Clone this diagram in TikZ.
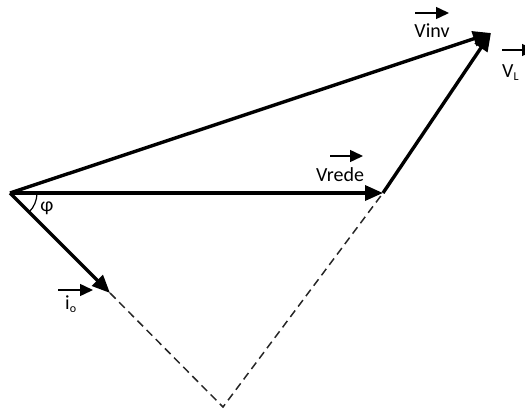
\documentclass[tikz,border=0pt]{standalone}
\usepackage{fontspec}
\setmainfont{Carlito}
\usetikzlibrary{arrows.meta}
\tikzset{
  vec/.style={line width=3.4pt, -{Triangle[length=18pt,width=15pt]}},
  lblarrow/.style={line width=1.5pt, -{Triangle[length=13pt,width=12pt]}},
  dashline/.style={line width=1.5pt, dash pattern=on 8pt off 5pt, black!85},
  lbl/.style={inner sep=0pt, font=\fontsize{20}{24}\selectfont}
}
\newcommand{\subsc}[1]{\raisebox{-3pt}{\fontsize{12}{12}\selectfont #1}}
\begin{document}
\begin{tikzpicture}[x=1pt,y=-1pt]
\clip (0,0) rectangle (525,412);
\coordinate (O) at (10,193);
\coordinate (R) at (383,193);
\coordinate (T) at (491,33);
\coordinate (I) at (110,293);
\coordinate (B) at (223,407);
% dashed construction lines
\draw[dashline] (I) -- (B) -- (R);
% vectors
\draw[vec] (O) -- (T);
\draw[vec] (O) -- (R);
\draw[vec] (R) -- (T);
\draw[vec] (O) -- (I);
% angle
\draw[line width=1.2pt] (O) ++(27,0) arc[start angle=0, end angle=45, radius=27];
\node[lbl] (phi) at (47,208) {φ};
% labels
\node[lbl] (vinv) at (432,31) {Vinv};
\coordinate (vinvA) at (415,13); \coordinate (vinvB) at (449,13);
\draw[lblarrow] (vinvA) -- (vinvB);
\node[lbl] (vred) at (340,175) {Vrede};
\coordinate (vredA) at (330,156); \coordinate (vredB) at (363,156);
\draw[lblarrow] (vredA) -- (vredB);
\node[lbl, anchor=west] (vl) at (502,73) {V\subsc{L}};
\coordinate (vlA) at (502,50); \coordinate (vlB) at (535,50);
\draw[lblarrow] (vlA) -- (vlB);
\node[lbl, anchor=west] (io) at (65,304) {i\subsc{o}};
\coordinate (ioA) at (58,290); \coordinate (ioB) at (93,290);
\draw[lblarrow] (ioA) -- (ioB);
\end{tikzpicture}
\end{document}
